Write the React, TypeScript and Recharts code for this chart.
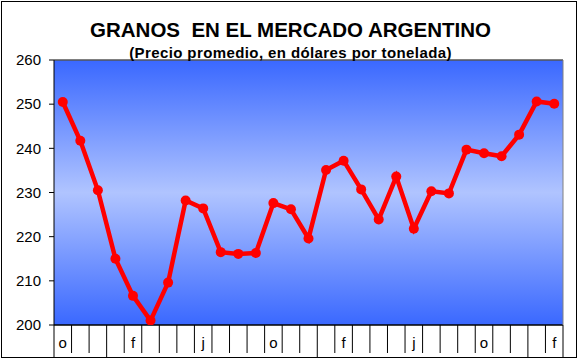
import React from "react";
import {
  LineChart,
  Line,
  XAxis,
  YAxis,
  CartesianGrid,
  ReferenceLine,
} from "recharts";

// Monthly average prices (USD per tonne), Oct .. Feb (29 months)
const months = [
  "oct", "nov", "dic", "ene", "feb", "mar", "abr", "may", "jun", "jul", "ago", "sep",
  "oct", "nov", "dic", "ene", "feb", "mar", "abr", "may", "jun", "jul", "ago", "sep",
  "oct", "nov", "dic", "ene", "feb",
];
const prices = [
  250.5, 241.7, 230.5, 215.0, 206.6, 201.0, 209.6, 228.2, 226.4, 216.5,
  216.1, 216.3, 227.6, 226.2, 219.6, 235.1, 237.2, 230.7, 223.9, 233.6,
  221.8, 230.3, 229.8, 239.7, 238.9, 238.2, 243.1, 250.6, 250.1,
];
const tickLabels = [
  "o", "", "", "", "f", "", "", "", "j", "", "", "",
  "o", "", "", "", "f", "", "", "", "j", "", "", "",
  "o", "", "", "", "f",
];
const yearStarts = [0, 3, 15, 27];
const yTicks = [200, 210, 220, 230, 240, 250, 260];
const title = "GRANOS  EN EL MERCADO ARGENTINO";
const subtitle = "(Precio promedio, en dólares por tonelada)";

const data = months.map((m, i) => ({ period: `${m}-${i}`, precio: prices[i] }));

const FONT = "'Liberation Sans', Arial, sans-serif";

const CategoryTick = (props: any) => {
  const { x, y, payload, width, index } = props;
  const i = typeof index === "number" ? index : payload.index;
  const half =
    payload && typeof payload.offset === "number" && payload.offset > 0
      ? payload.offset
      : width / data.length / 2;
  const left = x - half;
  const longLeft = yearStarts.includes(i);
  return (
    <g>
      <line x1={left} x2={left} y1={y} y2={y + (longLeft ? 33 : 28)} stroke="#000" strokeWidth={1} />
      {i === data.length - 1 && (
        <line x1={x + half} x2={x + half} y1={y} y2={y + 33} stroke="#000" strokeWidth={1} />
      )}
      {tickLabels[i] ? (
        <text x={x} y={y + 23} textAnchor="middle" fontSize={15} fontFamily={FONT} fill="#000">
          {tickLabels[i]}
        </text>
      ) : null}
    </g>
  );
};

export default function App() {
  return (
    <div style={{ position: "relative", width: 578, height: 359, background: "#fff" }}>
      <style>{"body{margin:0;}"}</style>
      <LineChart
        width={578}
        height={359}
        data={data}
        margin={{ top: 60, right: 0, bottom: 0, left: 0 }}
        style={{ fontFamily: FONT }}
      >
        <defs>
          <linearGradient id="plotBg" x1="0" y1="0" x2="0" y2="1">
            <stop offset="0%" stopColor="#3A68FF" />
            <stop offset="50%" stopColor="#B0C4FF" />
            <stop offset="100%" stopColor="#3A68FF" />
          </linearGradient>
        </defs>
        <CartesianGrid
          vertical={false}
          stroke="#000"
          strokeWidth={1}
          fill="url(#plotBg)"
          fillOpacity={1}
        />
        <XAxis
          dataKey="period"
          type="category"
          scale="band"
          interval={0}
          height={34}
          tickSize={0}
          tickMargin={0}
          tickLine={false}
          axisLine={{ stroke: "#000", strokeWidth: 1 }}
          tick={<CategoryTick />}
        />
        <YAxis
          yAxisId="left"
          domain={[200, 260]}
          ticks={yTicks}
          interval={0}
          width={54}
          tickSize={5}
          tickMargin={8}
          tickLine={{ stroke: "#000" }}
          axisLine={{ stroke: "#000" }}
          tick={{ fill: "#000", fontSize: 15, fontFamily: FONT }}
          allowDataOverflow
        />
        <YAxis
          yAxisId="right"
          orientation="right"
          domain={[200, 260]}
          width={15}
          tick={false}
          tickLine={false}
          axisLine={{ stroke: "#808080" }}
        />
        <ReferenceLine yAxisId="left" y={260} stroke="#808080" strokeWidth={1} />
        <Line
          yAxisId="left"
          type="linear"
          dataKey="precio"
          stroke="#FF0000"
          strokeWidth={4.5}
          dot={{ r: 5, fill: "#FF0000", stroke: "none" }}
          activeDot={false}
          isAnimationActive={false}
        />
      </LineChart>
      <svg
        width={578}
        height={359}
        style={{ position: "absolute", left: 0, top: 0, pointerEvents: "none" }}
      >
        <rect x={1.5} y={1.5} width={575} height={356} fill="none" stroke="#000" strokeWidth={1} />
        <text
          x={290.5}
          y={37}
          textAnchor="middle"
          fontFamily={FONT}
          fontWeight="bold"
          fontSize={20.5}
          fill="#000"
          style={{ whiteSpace: "pre" }}
          xmlSpace="preserve"
        >
          {title}
        </text>
        <text
          x={290.5}
          y={57.5}
          textAnchor="middle"
          fontFamily={FONT}
          fontWeight="bold"
          fontSize={15}
          letterSpacing={0.4}
          fill="#000"
        >
          {subtitle}
        </text>
      </svg>
    </div>
  );
}
